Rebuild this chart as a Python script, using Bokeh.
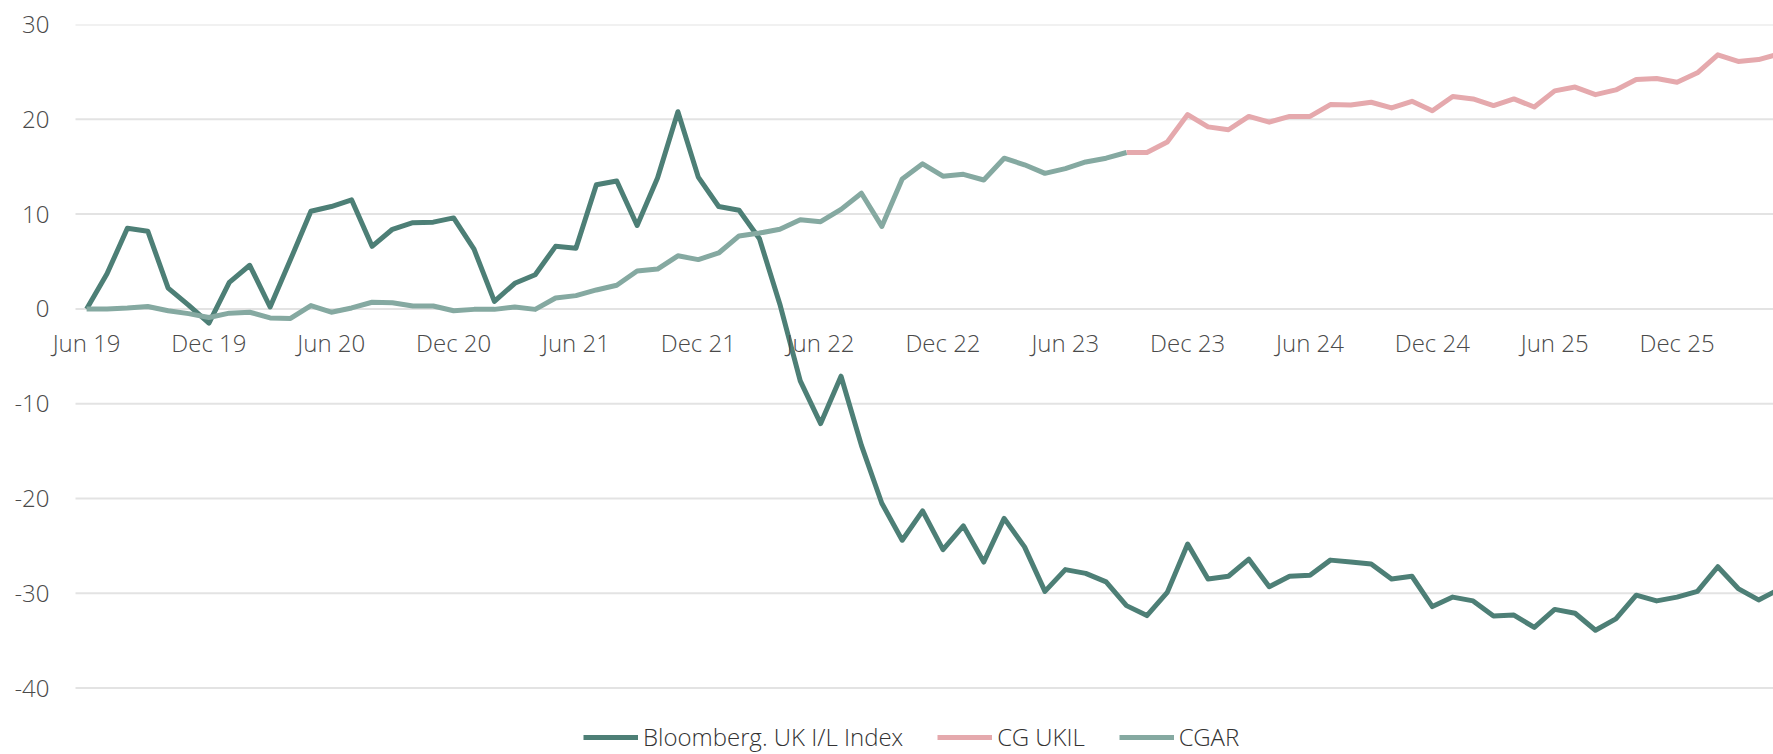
from bokeh.plotting import figure
from bokeh.models import FixedTicker, Legend, LegendItem, ColumnDataSource, Range1d, LabelSet
from bokeh.core.properties import value
from bokeh.embed import file_html
from bokeh.resources import INLINE
import pandas as pd

# ---------------- data ----------------
months = [d.strftime("%b %y") for d in pd.date_range("2019-06-01", periods=84, freq="MS")]

bloomberg = [
    0.0, 3.7, 8.5, 8.2, 2.2, 0.4, -1.5,                                   # Jun-Dec 19
    2.8, 4.6, 0.2, 5.2, 10.3, 10.8, 11.5, 6.6, 8.4, 9.1, 9.15, 9.6,       # 2020
    6.3, 0.8, 2.7, 3.6, 6.6, 6.4, 13.1, 13.5, 8.8, 13.8, 20.8, 13.9,      # 2021
    10.8, 10.4, 7.4, 0.5, -7.6, -12.1, -7.1, -14.4, -20.5, -24.4, -21.3, -25.4,   # 2022
    -22.9, -26.7, -22.1, -25.1, -29.8, -27.5, -27.9, -28.8, -31.3, -32.35, -29.9, -24.8,  # 2023
    -28.5, -28.2, -26.4, -29.3, -28.2, -28.1, -26.5, -26.7, -26.9, -28.5, -28.2, -31.4,  # 2024
    -30.4, -30.8, -32.4, -32.3, -33.6, -31.7, -32.1, -33.9, -32.7, -30.2, -30.8, -30.4,  # 2025
    -29.8, -27.2, -29.5, -30.7, -29.6,                                    # Jan-May 26
]

cgar = [
    0.0, 0.0, 0.1, 0.25, -0.2, -0.5, -0.9,
    -0.45, -0.35, -0.95, -1.0, 0.35, -0.35, 0.1, 0.7, 0.65, 0.3, 0.3, -0.2,
    -0.05, -0.05, 0.2, -0.05, 1.15, 1.4, 2.0, 2.5, 4.0, 4.2, 5.6, 5.2,
    5.9, 7.7, 8.0, 8.4, 9.4, 9.2, 10.5, 12.2, 8.7, 13.7, 15.3, 14.0,
    14.2, 13.6, 15.9, 15.2, 14.3, 14.8, 15.5, 15.9, 16.5,                 # to Sep 23
]

cg_ukil_start = "Sep 23"
cg_ukil = [
    16.5, 16.5, 17.6, 20.5,                                               # Sep-Dec 23
    19.2, 18.9, 20.3, 19.7, 20.3, 20.3, 21.55, 21.5, 21.8, 21.2, 21.9, 20.9,   # 2024
    22.4, 22.15, 21.45, 22.15, 21.3, 23.0, 23.4, 22.6, 23.1, 24.2, 24.3, 23.9, # 2025
    24.9, 26.8, 26.1, 26.3, 26.9,                                         # Jan-May 26
]

x_tick_labels = ["Jun 19", "Dec 19", "Jun 20", "Dec 20", "Jun 21", "Dec 21", "Jun 22",
                 "Dec 22", "Jun 23", "Dec 23", "Jun 24", "Dec 24", "Jun 25", "Dec 25"]
y_ticks = [-40, -30, -20, -10, 0, 10, 20, 30]
y_tick_labels = ["-40", "-30", "-20", "-10", "0", "10", "20", "30"]

series_names = ["Bloomberg. UK I/L Index", "CG UKIL", "CGAR"]
series_colors = ["#4D7F76", "#E5A9AD", "#85A9A1"]

# ---------------- layout ----------------
FONT = "Open Sans Light, Open Sans"
FSIZE = "24px"
LABEL_COLOR = "#4A4A4A"

W, H = 1773, 754
FRAME_LEFT = 45          # px, leaves room for the first x label
FRAME_TOP = 24
PX_PER_MONTH = 20.39
PX_PER_UNIT = 9.48
FIRST_PT_PX = 86.1       # x of the first month
GRID_LEFT_PX = 75        # gridlines start here

x_start = (FRAME_LEFT - FIRST_PT_PX) / PX_PER_MONTH
x_end = (W - FIRST_PT_PX) / PX_PER_MONTH
y_end = 30
y_start = y_end - (H - FRAME_TOP) / PX_PER_UNIT
grid_x0 = (GRID_LEFT_PX - FIRST_PT_PX) / PX_PER_MONTH

p = figure(width=W, height=H, output_backend="svg", toolbar_location=None,
           x_axis_location=None, tools="",
           x_range=Range1d(x_start, x_end), y_range=Range1d(y_start, y_end))
p.min_border_left = FRAME_LEFT
p.min_border_right = 0
p.min_border_top = FRAME_TOP
p.min_border_bottom = 0
p.outline_line_color = None
p.background_fill_color = "white"
p.border_fill_color = "white"

for g in p.xgrid:
    g.visible = False
for g in p.ygrid:
    g.visible = False

p.yaxis.ticker = FixedTicker(ticks=y_ticks)
p.yaxis.major_label_overrides = {t: l for t, l in zip(y_ticks, y_tick_labels)}
p.yaxis.axis_line_color = None
p.yaxis.major_tick_line_color = None
p.yaxis.minor_tick_line_color = None
p.yaxis.major_tick_out = 0
p.yaxis.major_tick_in = 0
p.yaxis.major_label_standoff = FRAME_LEFT - 49
p.yaxis.major_label_text_font = FONT
p.yaxis.major_label_text_font_size = FSIZE
p.yaxis.major_label_text_color = LABEL_COLOR

# horizontal gridlines at the y ticks
p.segment(x0=[grid_x0] * len(y_ticks), x1=[x_end + 1] * len(y_ticks),
          y0=y_ticks, y1=y_ticks, line_color="#E3E3E3", line_width=2)

xs_all = list(range(len(months)))
i0 = months.index(cg_ukil_start)

LW = 5
r_bb = p.line(xs_all[:len(bloomberg)], bloomberg, line_color=series_colors[0],
              line_width=LW, line_join="round")
r_uk = p.line(xs_all[i0:i0 + len(cg_ukil)], cg_ukil, line_color=series_colors[1],
              line_width=LW, line_join="round")
r_cg = p.line(xs_all[:len(cgar)], cgar, line_color=series_colors[2],
              line_width=LW, line_join="round")

# x tick labels sitting under the zero line
tick_src = ColumnDataSource(dict(x=[months.index(l) for l in x_tick_labels],
                                 y=[0] * len(x_tick_labels), t=x_tick_labels))
p.add_layout(LabelSet(x="x", y="y", text="t", source=tick_src, text_align="center",
                      text_baseline="middle", y_offset=-34, text_font=value(FONT),
                      text_font_size=value(FSIZE), text_color=LABEL_COLOR))

legend = Legend(items=[LegendItem(label=series_names[0], renderers=[r_bb]),
                       LegendItem(label=series_names[1], renderers=[r_uk]),
                       LegendItem(label=series_names[2], renderers=[r_cg])],
                orientation="horizontal", location=(583 - FRAME_LEFT, 1))
legend.border_line_color = None
legend.background_fill_alpha = 0
legend.padding = 0
legend.margin = 0
legend.spacing = 34
legend.glyph_width = 55
legend.glyph_height = 20
legend.label_height = 20
legend.label_standoff = 5
legend.label_text_font = FONT
legend.label_text_font_size = FSIZE
legend.label_text_color = "#333333"
p.add_layout(legend)

open("out.html", "w").write(file_html(p, INLINE))
